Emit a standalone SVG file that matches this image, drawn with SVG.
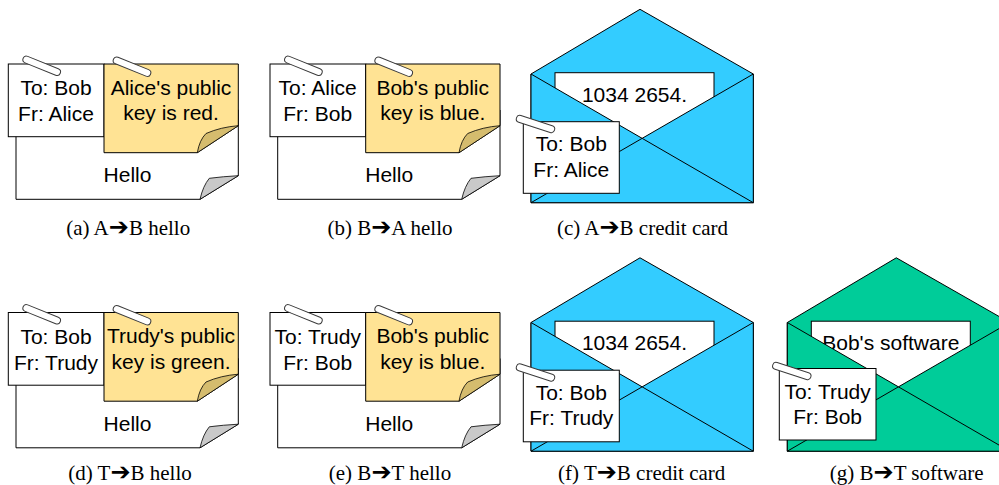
<svg xmlns="http://www.w3.org/2000/svg" xmlns:xlink="http://www.w3.org/1999/xlink" width="999" height="485" viewBox="0 0 999 485">
  <style>
    .ln { stroke: #000; stroke-width: 1; stroke-linejoin: miter; }
    .paper { fill: #fff; }
    .note { fill: #FFE394; }
    .noteFold { fill: #D5BC6E; stroke: #000; stroke-width: 0.8; }
    .sheetFold { fill: #C9C9C9; stroke: #000; stroke-width: 0.8; }
    .clip { fill: #fff; stroke: #3a3a3a; stroke-width: 1; }
    .blue { fill: #33CCFF; }
    .green { fill: #00CC99; }
    .t { font-family: "Liberation Sans", Arial, sans-serif; font-size: 21px; fill: #000; text-anchor: middle; }
    .cap { font-family: "Liberation Serif", "Times New Roman", serif; font-size: 21px; fill: #000; text-anchor: middle; }
    .arr { font-family: "DejaVu Sans", sans-serif; font-size: 24px; }
  </style>
  <defs>
    <!-- paper clip: a rounded capsule outline -->
    <rect id="clipShape" class="clip" x="-20" y="-3.5" width="40" height="7" rx="3.5"/>

    <!-- letter with an address slip and a sticky note -->
    <g id="letter">
      <path class="paper ln" d="M16,110 H238.3 V175.7 L200,199.3 H16 Z"/>
      <path class="sheetFold" d="M200,199.3 Q203,186 209.3,178.3 Q223,176.5 238.3,175.7 Z"/>
      <rect class="paper ln" x="8.3" y="64" width="95.7" height="72.7"/>
      <path class="note ln" d="M104,64 H238.3 V125.7 L197.3,152.7 H104 Z"/>
      <path class="noteFold" d="M197.3,152.7 Q199.5,140 206,133.5 Q221,127 238.3,125.7 Z"/>
      <use xlink:href="#clipShape" transform="translate(41.7,65.8) rotate(22)"/>
      <use xlink:href="#clipShape" transform="translate(132,66.7) rotate(22)"/>
    </g>

    <!-- envelope outline pieces, local origin at top-left of the body -->
    <path id="envBack" d="M0,0 L109,-64.7 L222.3,0 V128.7 H0 Z"/>
    <path id="envFront" d="M0,0 L111.15,64.35 L222.3,0 V128.7 H0 Z"/>
    <path id="envCross" d="M0,128.7 L111.15,64.35 L222.3,128.7"/>
  </defs>

  <!-- (a) -->
  <g id="letter-a">
    <use xlink:href="#letter"/>
    <text class="t" x="56" y="95">To: Bob</text>
    <text class="t" x="56" y="121">Fr: Alice</text>
    <text class="t" x="171" y="94.5">Alice's public</text>
    <text class="t" x="171" y="120">key is red.</text>
    <text class="t" x="127.5" y="182">Hello</text>
  </g>

  <!-- (b) -->
  <g id="letter-b" transform="translate(261.7,0)">
    <use xlink:href="#letter"/>
    <text class="t" x="56" y="95">To: Alice</text>
    <text class="t" x="56" y="121">Fr: Bob</text>
    <text class="t" x="171" y="94.5">Bob's public</text>
    <text class="t" x="171" y="120">key is blue.</text>
    <text class="t" x="127.5" y="182">Hello</text>
  </g>

  <!-- (c) -->
  <g id="envelope-c" transform="translate(531,74)">
    <use xlink:href="#envBack" class="blue ln"/>
    <rect class="paper ln" x="24" y="-1.3" width="159" height="100"/>
    <text class="t" x="103.5" y="27.7">1034 2654.</text>
    <use xlink:href="#envFront" class="blue ln"/>
    <use xlink:href="#envCross" fill="none" class="ln"/>
    <rect class="paper ln" x="-7.7" y="47.7" width="96" height="71.6"/>
    <text class="t" x="40.3" y="77">To: Bob</text>
    <text class="t" x="40.3" y="102.7">Fr: Alice</text>
    <use xlink:href="#clipShape" transform="translate(4.5,50) rotate(18)"/>
  </g>

  <!-- (d) -->
  <g id="letter-d" transform="translate(0,248.5)">
    <use xlink:href="#letter"/>
    <text class="t" x="56" y="95">To: Bob</text>
    <text class="t" x="56" y="121">Fr: Trudy</text>
    <text class="t" x="171" y="94.5">Trudy's public</text>
    <text class="t" x="171" y="120">key is green.</text>
    <text class="t" x="127.5" y="182">Hello</text>
  </g>

  <!-- (e) -->
  <g id="letter-e" transform="translate(261.7,248.5)">
    <use xlink:href="#letter"/>
    <text class="t" x="56" y="95">To: Trudy</text>
    <text class="t" x="56" y="121">Fr: Bob</text>
    <text class="t" x="171" y="94.5">Bob's public</text>
    <text class="t" x="171" y="120">key is blue.</text>
    <text class="t" x="127.5" y="182">Hello</text>
  </g>

  <!-- (f) -->
  <g id="envelope-f" transform="translate(531,322.5)">
    <use xlink:href="#envBack" class="blue ln"/>
    <rect class="paper ln" x="24" y="-1.3" width="159" height="100"/>
    <text class="t" x="103.5" y="27.7">1034 2654.</text>
    <use xlink:href="#envFront" class="blue ln"/>
    <use xlink:href="#envCross" fill="none" class="ln"/>
    <rect class="paper ln" x="-7.7" y="47.7" width="96" height="71.6"/>
    <text class="t" x="40.3" y="77">To: Bob</text>
    <text class="t" x="40.3" y="102.7">Fr: Trudy</text>
    <use xlink:href="#clipShape" transform="translate(4.5,50) rotate(18)"/>
  </g>

  <!-- (g) -->
  <g id="envelope-g" transform="translate(787.3,322.5)">
    <use xlink:href="#envBack" class="green ln"/>
    <rect class="paper ln" x="24" y="-1.3" width="159" height="100"/>
    <text class="t" x="103.5" y="27">Bob's software</text>
    <use xlink:href="#envFront" class="green ln"/>
    <use xlink:href="#envCross" fill="none" class="ln"/>
    <rect class="paper ln" x="-8" y="46" width="96.7" height="71.5"/>
    <text class="t" x="40.3" y="76">To: Trudy</text>
    <text class="t" x="40.3" y="101.7">Fr: Bob</text>
    <use xlink:href="#clipShape" transform="translate(4.5,48.5) rotate(18)"/>
  </g>

  <!-- captions -->
  <g id="captions">
    <text class="cap" x="128.2" y="235">(a) A<tspan class="arr">➔</tspan>B hello</text>
    <text class="cap" x="390" y="235">(b) B<tspan class="arr">➔</tspan>A hello</text>
    <text class="cap" x="642.5" y="235">(c) A<tspan class="arr">➔</tspan>B credit card</text>
    <text class="cap" x="130" y="480">(d) T<tspan class="arr">➔</tspan>B hello</text>
    <text class="cap" x="390" y="480">(e) B<tspan class="arr">➔</tspan>T hello</text>
    <text class="cap" x="641.7" y="480">(f) T<tspan class="arr">➔</tspan>B credit card</text>
    <text class="cap" x="906.7" y="480">(g) B<tspan class="arr">➔</tspan>T software</text>
  </g>
</svg>
